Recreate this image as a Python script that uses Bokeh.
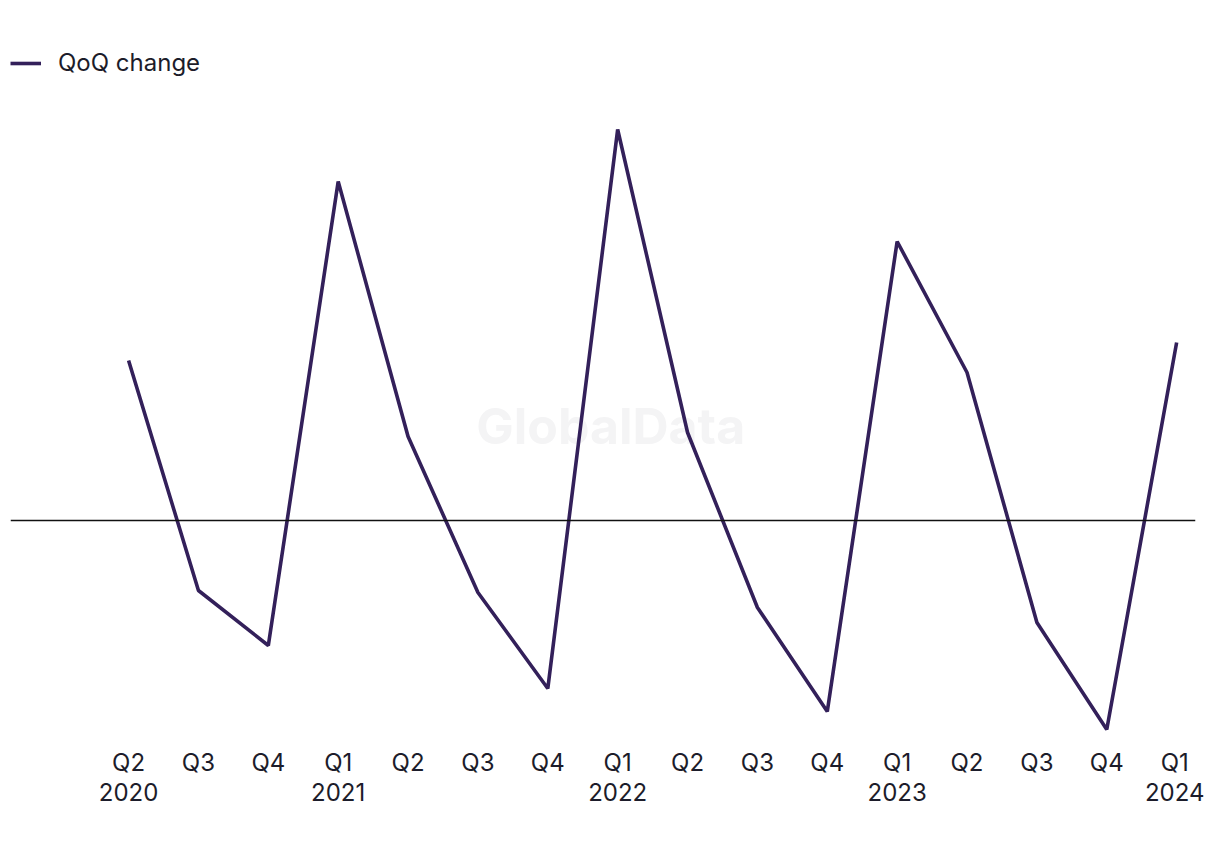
from bokeh.plotting import figure
from bokeh.models import Span, Label, FixedTicker, Range1d, Legend, LegendItem
from bokeh.embed import file_html
from bokeh.resources import INLINE

quarters = ["Q2\n2020", "Q3", "Q4", "Q1\n2021", "Q2", "Q3", "Q4", "Q1\n2022",
            "Q2", "Q3", "Q4", "Q1\n2023", "Q2", "Q3", "Q4", "Q1\n2024"]
qoq_change = [16.0, -7.0, -12.5, 33.9, 8.4, -7.2, -16.8, 39.1,
              8.8, -8.7, -19.1, 27.9, 14.8, -10.2, -20.9, 17.8]

xs = list(range(len(quarters)))
LINE = "#33205a"
FONT = "Inter"

p = figure(width=1204, height=834, output_backend="svg", toolbar_location=None,
           x_range=Range1d(-1.69, 15.27), y_range=Range1d(-22.2, 47.2),
           min_border_left=10, min_border_right=9, min_border_top=48, min_border_bottom=92)
p.outline_line_color = None
p.xgrid.visible = False
p.ygrid.visible = False
p.yaxis.visible = False

wm = Label(x=6.9, y=9.5, text="GlobalData", text_align="center", text_baseline="middle",
           text_font=FONT, text_font_style="bold", text_font_size="50px",
           text_color="#f4f4f5", level="underlay")
p.add_layout(wm)

p.add_layout(Span(location=0, dimension="width", line_color="#111111", line_width=1.5))

r = p.line(xs, qoq_change, line_color=LINE, line_width=3.6)

ax = p.xaxis[0]
ax.ticker = FixedTicker(ticks=xs)
ax.major_label_overrides = {i: q for i, q in enumerate(quarters)}
ax.axis_line_color = None
ax.major_tick_line_color = None
ax.minor_tick_line_color = None
ax.major_label_text_font = FONT
ax.major_label_text_font_size = "24px"
ax.major_label_text_color = "#1c1c2a"
ax.major_label_text_line_height = 1.05
ax.major_label_standoff = -1

legend = Legend(items=[LegendItem(label="QoQ change", renderers=[r])],
                location="top_left", margin=0, padding=0, spacing=0,
                glyph_width=31, glyph_height=14, label_standoff=17,
                label_height=14,
                label_text_font=FONT, label_text_font_size="24px",
                label_text_color="#1c1c2a", background_fill_alpha=0,
                border_line_color=None)
p.add_layout(legend)

open("out.html", "w").write(file_html(p, INLINE))
